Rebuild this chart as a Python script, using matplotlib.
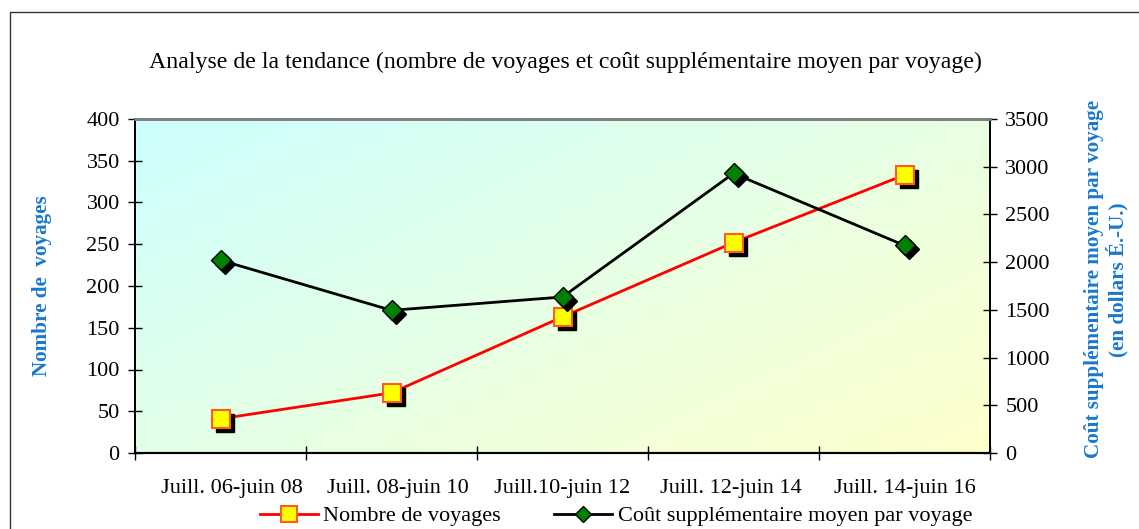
import matplotlib
matplotlib.use("Agg")
import matplotlib.pyplot as plt
import matplotlib.transforms as mtransforms
from matplotlib.lines import Line2D
from matplotlib.patches import Rectangle
import numpy as np

categories = ["Juill. 06-juin 08", "Juill. 08-juin 10", "Juill.10-juin 12",
              "Juill. 12-juin 14", "Juill. 14-juin 16"]
nombre_voyages = [41, 72, 163, 252, 333]
cout_moyen = [2020, 1495, 1635, 2930, 2175]
left_ticks = [0, 50, 100, 150, 200, 250, 300, 350, 400]
right_ticks = [0, 500, 1000, 1500, 2000, 2500, 3000, 3500]

title = "Analyse de la tendance (nombre de voyages et coût supplémentaire moyen par voyage)"
ylabel_left = "Nombre de  voyages"
ylabel_right = "Coût supplémentaire moyen par voyage\n(en dollars É.-U.)"
legend_labels = ["Nombre de voyages", "Coût supplémentaire moyen par voyage"]

plt.rcParams['font.family'] = ['Liberation Serif', 'DejaVu Serif']
blue = '#1a78cc'
FS = 16

W, H = 1139, 529
fig = plt.figure(figsize=(W / 100, H / 100), dpi=100)
ax = fig.add_axes([135 / W, (H - 453) / H, 855 / W, 334 / H])
ax2 = ax.twinx()

# frame around the chart (cropped at right/bottom)
fig.patches.append(Rectangle((10 / W, -0.2), 1.2, (H - 12) / H + 0.2,
                             transform=fig.transFigure, fill=False,
                             edgecolor='#333333', linewidth=1.0))

# gradient background
n = 200
gx, gy = np.meshgrid(np.linspace(0, 1, n), np.linspace(1, 0, n))
t = np.clip((gx * 0.75 + (1 - gy) * 0.6) / 1.35, 0, 1)
c0 = np.array([0.80, 1.0, 1.0])
c1 = np.array([1.0, 1.0, 0.80])
img = c0[None, None, :] * (1 - t[..., None]) + c1[None, None, :] * t[..., None]
ax.imshow(img, extent=[0, 1, 0, 1], transform=ax.transAxes, aspect='auto', zorder=0)

x = np.arange(len(categories))
shadow = mtransforms.ScaledTranslation(4 / 100, -4 / 100, fig.dpi_scale_trans)

# Nombre de voyages
ax.plot(x, nombre_voyages, color='red', linewidth=2, zorder=3)
ax.plot(x, nombre_voyages, linestyle='none', marker='s', markersize=12.5,
        color='black', transform=ax.transData + shadow, zorder=4)
ax.plot(x, nombre_voyages, linestyle='none', marker='s', markersize=12.5,
        markerfacecolor='#ffff00', markeredgecolor='#ff5a2a', markeredgewidth=1.5, zorder=5)

# Coût
ax2.plot(x, cout_moyen, color='black', linewidth=2, zorder=3)
ax2.plot(x, cout_moyen, linestyle='none', marker='D', markersize=10,
         color='black', transform=ax2.transData + shadow, zorder=4)
ax2.plot(x, cout_moyen, linestyle='none', marker='D', markersize=10,
         markerfacecolor='#008000', markeredgecolor='black', markeredgewidth=1.0, zorder=5)

ax.set_xlim(-0.5, len(categories) - 0.5)
ax.set_ylim(0, 400)
ax2.set_ylim(0, 3500)
ax.set_yticks(left_ticks)
ax2.set_yticks(right_ticks)
ax.set_xticks(np.arange(len(categories) + 1) - 0.5)
ax.set_xticklabels([])
label_shift = np.array([0.067, 0.04, 0.0, -0.015, 0.005])  # label placement (style)
ax.set_xticks(x + label_shift, minor=True)
ax.set_xticklabels(categories, minor=True)
ax.tick_params(axis='x', which='minor', length=0, pad=19, labelsize=FS)
ax.tick_params(axis='x', which='major', direction='inout', length=10, width=1)
ax.tick_params(axis='y', direction='inout', length=10, width=1, labelsize=FS, pad=6)
ax2.tick_params(axis='y', direction='inout', length=10, width=1, labelsize=FS, pad=6)

for a in (ax, ax2):
    a.spines['top'].set_color('#808080')
    a.spines['top'].set_linewidth(2)
    a.spines['left'].set_linewidth(1.3)
    a.spines['right'].set_linewidth(1.3)
    a.spines['bottom'].set_linewidth(1.5)
ax2.patch.set_visible(False)

ax.set_ylabel(ylabel_left, color=blue, fontweight='bold', fontsize=15.2, labelpad=25)
ax2.set_ylabel(ylabel_right, color=blue, fontweight='bold', fontsize=15.2, labelpad=25,
               linespacing=1.1)
ax2.yaxis.label.set_y(0.52)

fig.text(565 / W, (H - 62) / H, title, ha='center', va='center', fontsize=17.2)

handles = [
    Line2D([], [], color='red', linewidth=2, marker='s', markersize=11,
           markerfacecolor='#ffff00', markeredgecolor='#ff5a2a', markeredgewidth=1.5),
    Line2D([], [], color='black', linewidth=2, marker='D', markersize=8,
           markerfacecolor='#008000', markeredgecolor='black'),
]
fig.legend(handles, legend_labels, loc='center', bbox_to_anchor=(616 / W, (H - 516) / H),
           ncol=2, frameon=False, fontsize=FS, handlelength=2.6, handletextpad=0.25,
           columnspacing=2.4)

fig.savefig("out.png", dpi=100)
